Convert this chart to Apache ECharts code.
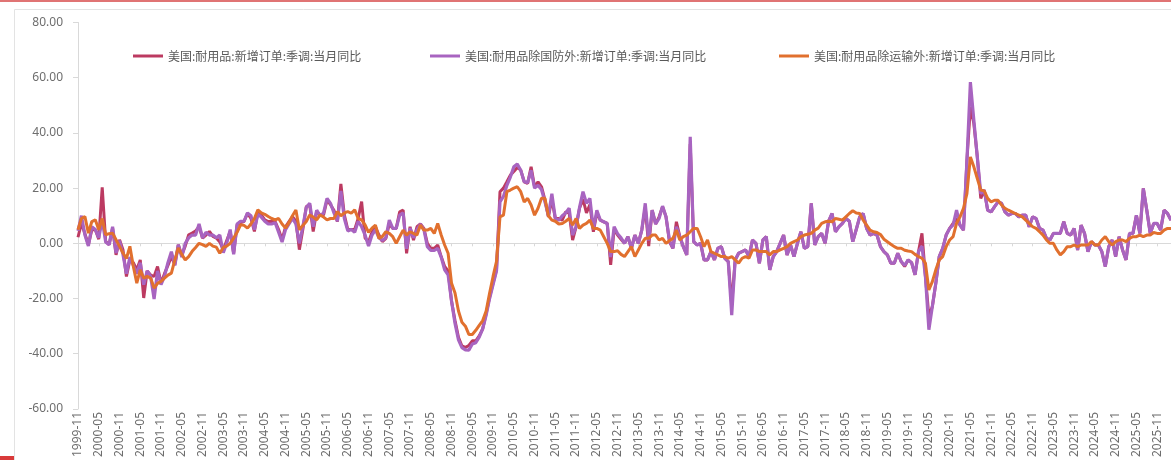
<!DOCTYPE html>
<html>
<head>
<meta charset="utf-8">
<script src="https://cdn.jsdelivr.net/npm/echarts@6/dist/echarts.min.js"></script>
<style>
  html, body { margin: 0; padding: 0; background: #fff; }
  #chart { width: 1171px; height: 460px; }
</style>
</head>
<body>
<div id="chart"></div>
<script>
// monthly, 1999-11 onwards
const startYear = 1999
const startMonth = 11

const seriesNames = [
  '美国:耐用品:新增订单:季调:当月同比',
  '美国:耐用品除国防外:新增订单:季调:当月同比',
  '美国:耐用品除运输外:新增订单:季调:当月同比'
]

const durableYoy = [
  2.2, 7.3,
  3.5, -0.5, 4.9, 5.0, 1.5, 20.3, 0.7, -0.5, 5.5, -4.2, 1.3, -2.3,
  -12, -6, -7, -9.6, -6, -19.8, -10, -11.5, -12, -8.4, -14.4, -11,
  -8, -4.8, -7.7, -0.5, -4.2, -1, 3.1, 3.7, 4.5, 6, 1.9, 3,
  4.3, 2.5, 1.9, 0.5, -2.3, 1, 4.3, -3.6, 6.7, 7.5, 7.9, 10.9,
  9, 4.3, 11.5, 10.3, 8.5, 7.9, 8, 7.9, 5, 1.3, 6, 7.9,
  9.7, 8, -2.3, 5, 13.3, 13.9, 4.3, 11.5, 10.3, 10.3, 15.7, 14,
  12, 7.9, 21.5, 10.3, 5, 5, 5, 9, 15.1, 1.9, 0.5, 4,
  6, 3, 0.6, 1.8, 7, 5.4, 5.4, 11.4, 12, -3.6, 6, 1.2,
  6, 7, 5.4, 0, -1.8, -1.8, -0.6, -4.8, -8.4, -10, -21, -28,
  -34, -37.2, -37.7, -37, -35.3, -35.3, -33.5, -31, -25.5, -19.5, -14.5, -9.5,
  18.7, 20, 22.3, 24.7, 26, 27.5, 26.5, 22.3, 21.7, 27.7, 20.5, 22.3,
  20.5, 15.7, 9.6, 16, 9, 9, 8.4, 11.4, 11, 1.2, 6, 12.7,
  16, 11, 14, 4.2, 11, 8.4, 7.8, 7.2, -7.8, 5, 3, 1.5,
  0, 2.4, -1.8, 3, 0, 4.8, 13, -1, 12, 7, 9.6, 13.3,
  9.6, 0.5, -1.8, 7.8, 2.4, -1.2, -4.2, 36, 0.6, -0.6, 0, -6,
  -6, -3, -6, -1.8, -1.2, -5.4, -6.6, -22, -6, -3.6, -3, -2.4,
  -4.8, 1.2, 0, -7.2, 1.2, 2.4, -9.6, -4.8, -3, 0, 3, -4.2,
  -0.6, -4.8, 0, 4.2, -1.8, -1.2, 14.5, -0.6, 2.4, 3.6, 0, 8,
  10.8, 4.2, 6, 7.2, 9, 8, 0.6, 5, 9.6, 10.8, 5.4, 3,
  3.6, 3, -1.2, -3, -4.2, -7.2, -7.2, -3.6, -6.6, -8.4, -6, -7,
  -11.4, -3, 3.6, -12, -26.5, -22.9, -14.5, -4.8, -1.8, 3, 5.4, 7.2,
  9, 6.6, 4.8, 30, 49.4, 43.4, 31.3, 16.3, 19.3, 12, 11.4, 13.3,
  15, 14.5, 11.4, 10.2, 10.8, 10.8, 9.6, 10.2, 10.2, 6, 9.6, 9,
  5.4, 4.8, 1.8, 1.2, 3.6, 3.6, 3.6, 7.8, 3.6, 3, 5.4, -2.4,
  6.6, 3.6, -3, 0.6, -0.6, -0.6, -3, -8.4, -1.2, 1.2, -4.8, 2.4,
  -2.4, -6, 3.6, 3.6, 10.2, 3.6, 19.9, 12, 3.6, 7.2, 7.2, 4.8,
  12, 10.8, 8.4
]

const exDefenseYoy = [
  4.5, 10,
  3, -1, 6, 5, 2, 8.5, 0.5, -0.5, 6, -3.5, 1, -4,
  -11, -5, -8, -11, -7, -15, -10, -12, -20.2, -10, -15, -12,
  -7, -3, -8, -0.5, -5, 0, 2, 3, 3, 7, 2, 4,
  3, 3, 2, 3, -3.4, 0, 5, -4, 7, 8, 8, 11,
  10, 5, 10.5, 9.5, 8, 7, 7, 7.5, 4, 0.5, 5, 7,
  9, 7, 0, 6, 13, 14.5, 6, 12, 10, 11, 16.3, 14.5,
  11, 8, 19, 9, 4.5, 5, 4, 8, 6, 3, -1, 3,
  5, 2, 1, 2, 8.4, 5.4, 5.4, 10.2, 11, -2, 5.5, 2,
  5, 7, 5, -1.2, -2.6, -2.6, -1.8, -5, -9.6, -11.4, -21, -29,
  -35, -37.8, -38.6, -38.7, -36.5, -36, -34, -31, -26, -20, -15, -10,
  15, 17, 21, 24, 27.7, 28.7, 26.5, 22.3, 22, 26.5, 20, 21,
  19.5, 15, 10, 18, 9, 8.4, 10, 11, 12.7, 3, 6, 13,
  18.7, 14.5, 16.3, 5, 12, 8.4, 7.8, 7.2, -5, 6, 3.5, 2,
  0, 2.4, -1.8, 3, 0, 4.8, 14.5, 1, 12, 7, 9, 13.5,
  9.6, 1.2, -1.8, 6, 2.4, -1.2, -4.2, 38.6, 0.6, -0.6, 0, -6,
  -6, -3, -6, -1.8, -1.2, -5.4, -6.6, -26, -6, -3.6, -3, -2.4,
  -4.8, 1.2, 0, -7.2, 1.2, 2.4, -9.6, -4.8, -3, 0, 3, -4.2,
  -0.6, -4.8, 0, 4.2, -1.8, -1.2, 14.5, -0.6, 2.4, 3.6, 0, 8,
  10.8, 4.2, 6, 7.2, 9, 8, 0.6, 5, 9.6, 10.8, 5.4, 3,
  3.6, 3, -1.2, -3, -4.2, -7.2, -7.2, -3.6, -6.6, -8, -6, -7,
  -11.4, -3, -1, -12, -31.3, -22.9, -14.5, -4.8, -1.8, 3, 5.4, 6.6,
  12, 6.6, 4.8, 30, 58.4, 44.6, 31.3, 18, 19.3, 12, 11.4, 13.3,
  15, 14.5, 11.4, 10.2, 10.8, 10.8, 9.6, 10.2, 10.2, 6, 9.6, 9,
  5.4, 4.8, 1.8, 1.2, 3.6, 3.6, 3.6, 7.8, 3.6, 3, 5.4, -2.4,
  6.6, 3.6, -3, 0.6, -0.6, -0.6, -3, -8.4, -1.2, 1.2, -4.8, 2.4,
  -2.4, -6, 3.6, 3.6, 10.2, 3.6, 19.9, 12, 3.6, 7.2, 7.2, 4.8,
  12, 10.8, 8.4
]

const exTransportYoy = [
  4.9, 9,
  9.7, 3.7, 7.9, 8.5, 4.9, 9, 3.1, 3.5, 3.7, 1.3, -1.1, -3.5,
  -5.5, -1.1, -8.4, -14.4, -9.6, -12.6, -12, -12.6, -16.2, -14.5, -13.8, -12.6,
  -11.5, -10.8, -6, -1.7, -4, -6, -4.8, -2.9, -1.5, 0, -0.5, -1.1,
  0, -1, -1.4, -3.6, -1.5, -1, 0, 1.9, 4, 6.7, 6.5, 5.5,
  7, 9, 12.1, 11, 10.5, 9.7, 9, 8.5, 9, 7, 5.5, 7.5,
  10, 12.1, 4.9, 6.5, 7.9, 10.3, 9.5, 8.5, 10.3, 9.5, 8.5, 9,
  9, 11.5, 10, 11, 11.5, 10.9, 12.1, 9, 8.5, 6.7, 4, 5.5,
  6.6, 1.8, 2.5, 4.2, 3.6, 2.4, 0, 2.4, 4.8, 3, 4.2, 3.6,
  3, 6.6, 4.8, 4.8, 5.4, 3.6, 7.2, 3, -0.6, -3.6, -14.5, -18,
  -24.5, -28.6, -30, -33, -33, -31.5, -29.7, -28, -24.5, -18, -12, -6.5,
  9.6, 10.2, 18.7, 19.3, 20, 20.5, 18.7, 15, 16.3, 13.9, 10.2, 12.7,
  16.3, 16.3, 10, 8.4, 8, 7, 7.2, 8, 9, 6.6, 9, 5.4,
  6.6, 7.2, 8.4, 5.4, 5.4, 4.8, 2.4, 0, -3, -3, -2.7, -4,
  -4.8, -3, -1.2, -4.8, -2.4, 0, 1.8, 1.8, 3, 3, 1.2, 1.8,
  0, 1, 1.8, 4.8, 1.2, 2.4, 3, 4.2, 5.4, 5.4, 2.4, -1.2,
  1.2, -3, -3.6, -4.2, -4.8, -4.8, -5.4, -4.8, -6, -7.2, -5.4, -4.8,
  -5.4, -2.4, -2.4, -3, -3, -3, -4.2, -3, -3, -2.4, -1.8, -1.2,
  0, 0.6, 1.2, 2.4, 3, 3.3, 3.6, 4.8, 5.5, 7.2, 7.8, 8,
  7.8, 9, 8.7, 8.4, 9.6, 10.8, 11.8, 11, 10.8, 8.4, 6.6, 4.8,
  4.2, 3.9, 3.2, 1.5, 0.6, -0.3, -1.2, -1.8, -1.8, -2.5, -2.8, -3,
  -4, -4.8, -5.4, -7.2, -16.9, -13.9, -9.6, -6, -4.8, -1.2, 1.2, 2.4,
  7.2, 9.6, 12.7, 18, 31.3, 27.7, 23.5, 19.3, 19, 16.3, 15, 15.6,
  15.6, 13.9, 12.7, 12, 11.4, 10.8, 10.2, 9.6, 8.4, 7.2, 6, 5.4,
  4.2, 3, 1.2, 0, 0, -2.4, -4.2, -3, -1.2, -1.2, -0.6, -1.2,
  -0.6, -0.6, -0.6, 0.6, -0.6, -0.6, 1.2, 2.4, 0.6, -0.6, 0.6, 1.2,
  1.2, 0.6, 1.8, 2.4, 2.4, 3, 2.4, 3, 3, 3.9, 3.6, 3.6,
  4.8, 5.4, 5.4
]

const seriesColors = ['#bc3a61', '#a864c0', '#e1702e']

// category labels, yyyy-mm
const months = []
for (let i = 0; i < durableYoy.length; i++) {
  const m = startMonth - 1 + i
  const y = startYear + Math.floor(m / 12)
  const mm = (m % 12) + 1
  months.push(y + '-' + (mm < 10 ? '0' + mm : mm))
}

const chart = echarts.init(document.getElementById('chart'))

const legendText = {
  fontFamily: 'Noto Sans CJK SC',
  fontSize: 12,
  color: '#595959',
  lineHeight: 14
}
const legendLefts = [128, 425, 774]

const option = {
  animation: false,
  backgroundColor: '#fff',
  graphic: [
    { type: 'rect', shape: { x: 0, y: 0, width: 1171, height: 2 }, style: { fill: '#e07474' } },
    { type: 'polyline', shape: { points: [[14.5, 460], [14.5, 9.5], [1171, 9.5]] }, style: { stroke: '#e3e3e3', fill: null, lineWidth: 1 } },
    { type: 'rect', shape: { x: 0, y: 456, width: 14, height: 4 }, style: { fill: '#d93a3a' } }
  ],
  legend: seriesNames.map((name, k) => ({
    data: [name],
    left: legendLefts[k],
    top: 44,
    icon: 'rect',
    itemWidth: 30,
    itemHeight: 3,
    selectedMode: false,
    textStyle: legendText
  })),
  grid: { left: 78, right: 0, top: 22.5, bottom: 50.5 },
  xAxis: [{
    type: 'category',
    data: months,
    boundaryGap: false,
    position: 'bottom',
    axisLine: { show: false, onZero: false },
    axisTick: { show: false },
    axisLabel: {
      interval: 5,
      rotate: 90,
      margin: 3,
      color: '#6e6e6e',
      fontFamily: 'Noto Sans',
      fontSize: 12
    },
    splitLine: { show: false }
  }, {
    type: 'category',
    data: months,
    boundaryGap: false,
    position: 'top',
    axisLine: { onZero: true, lineStyle: { color: '#d9d9d9', width: 1 } },
    axisTick: { show: true, inside: true, interval: 5, length: 3, lineStyle: { color: '#d9d9d9' } },
    axisLabel: { show: false },
    splitLine: { show: false }
  }],
  yAxis: {
    type: 'value',
    min: -60,
    max: 80,
    interval: 20,
    axisLine: { show: true, lineStyle: { color: '#d9d9d9' } },
    axisTick: { show: true, length: 5, lineStyle: { color: '#d9d9d9' } },
    axisLabel: {
      margin: 15,
      color: '#6e6e6e',
      fontFamily: 'Noto Sans',
      fontSize: 12,
      formatter: v => v.toFixed(2)
    },
    splitLine: { show: false }
  },
  series: [durableYoy, exDefenseYoy, exTransportYoy].map((vals, k) => ({
    name: seriesNames[k],
    type: 'line',
    xAxisIndex: 0,
    data: vals,
    symbol: 'none',
    smooth: false,
    lineStyle: { color: seriesColors[k], width: k === 1 ? 3.2 : 3 },
    itemStyle: { color: seriesColors[k] }
  }))
}

chart.setOption(option)
</script>
</body>
</html>
